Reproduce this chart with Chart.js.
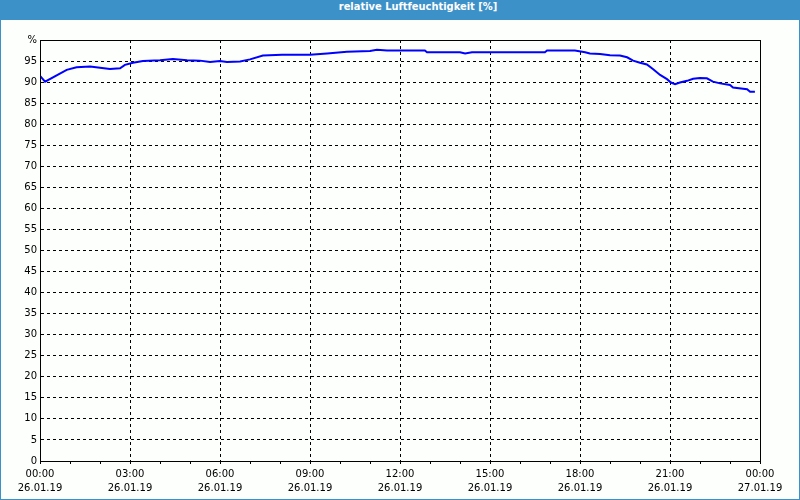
<!DOCTYPE html>
<html>
<head>
<meta charset="utf-8">
<script src="https://cdn.jsdelivr.net/npm/chart.js@4.4.0/dist/chart.umd.min.js"></script>
<style>
  html, body { margin: 0; padding: 0; background: #fff; }
  #wrap { width: 800px; height: 500px; position: relative; overflow: hidden; }
  #title {
    height: 20px; line-height: 20px; background: #3d91c9; color: #fff;
    font: bold 11px "DejaVu Sans Condensed", "DejaVu Sans", sans-serif;
    text-align: center; padding-left: 36px; box-sizing: border-box;
  }
  #box {
    width: 800px; height: 480px; box-sizing: border-box;
    border: 1px solid #3d91c9; border-top: 0; background: #fcfffc;
  }
  #chart { display: block; }
</style>
</head>
<body>
<div id="wrap">
  <div id="title">relative Luftfeuchtigkeit [%]</div>
  <div id="box"><canvas id="chart" width="798" height="479"></canvas></div>
</div>
<script>
/* ── data (hours since 26.01.19 00:00, % rH) ────────────────────────────── */
const hours = [
  0, 0.17, 0.89, 1.22, 1.67, 2.0, 2.33, 2.67, 2.83, 3.1, 3.43, 4.0, 4.43, 4.9,
  5.33, 5.67, 6.0, 6.23, 6.67, 7.0, 7.43, 8.07, 9.0, 9.57, 10.23, 11.0, 11.23,
  11.57, 12.83, 12.9, 14.0, 14.17, 14.4, 16.83, 16.9, 17.83, 18.17, 18.33,
  18.67, 19.0, 19.33, 19.57, 19.77, 20.0, 20.23, 20.43, 20.67, 20.9, 21.03,
  21.17, 21.33, 21.57, 21.77, 22.0, 22.23, 22.43, 22.67, 23.0, 23.1, 23.57,
  23.67, 23.83
];
const humidity = [
  91.5, 90.1, 92.9, 93.5, 93.7, 93.4, 93.1, 93.3, 94.1, 94.6, 95.0, 95.2, 95.5, 95.2,
  95.1, 94.8, 95.0, 94.8, 94.9, 95.4, 96.3, 96.5, 96.5, 96.8, 97.2, 97.4, 97.7,
  97.5, 97.5, 97.1, 97.1, 96.8, 97.1, 97.1, 97.5, 97.5, 97.1, 96.8,
  96.7, 96.4, 96.3, 95.9, 95.1, 94.6, 94.2, 93.1, 91.7, 90.7, 89.9,
  89.5, 89.9, 90.3, 90.8, 91.0, 90.9, 90.1, 89.7, 89.3, 88.7, 88.3,
  87.7, 87.7
];
const timeLabels = ['00:00', '03:00', '06:00', '09:00', '12:00', '15:00', '18:00', '21:00', '00:00'];
const dateLabels = ['26.01.19', '26.01.19', '26.01.19', '26.01.19', '26.01.19',
                    '26.01.19', '26.01.19', '26.01.19', '27.01.19'];

const FONT = { family: "'DejaVu Sans', sans-serif", size: 10, lineHeight: 1.4 };
const DASH = [3, 3];

/* frame round the plot area (top + right edges) */
const frame = {
  id: 'frame',
  afterDraw(chart) {
    const { ctx, chartArea: a } = chart;
    ctx.save();
    ctx.strokeStyle = '#000';
    ctx.lineWidth = 1;
    ctx.strokeRect(Math.round(a.left) + 0.5, Math.round(a.top) + 0.5,
                   Math.round(a.right - a.left), Math.round(a.bottom - a.top));
    ctx.restore();
  }
};

new Chart(document.getElementById('chart'), {
  type: 'line',
  data: {
    datasets: [{
      data: hours.map((h, i) => ({ x: h, y: humidity[i] })),
      borderColor: '#0000ff',
      borderWidth: 2,
      pointRadius: 0,
      tension: 0,
      fill: false,
    }]
  },
  options: {
    responsive: false,
    animation: false,
    layout: { padding: { left: 0, top: 20, right: 39, bottom: 0 } },
    plugins: { legend: { display: false }, tooltip: { enabled: false } },
    scales: {
      x: {
        type: 'linear',
        min: 0, max: 24,
        afterFit: s => { s.height = 38; },
        ticks: {
          stepSize: 1, autoSkip: false, maxRotation: 0, padding: 3,
          color: '#000', font: FONT,
          callback: v => v % 3 === 0 ? [timeLabels[v / 3], dateLabels[v / 3]] : '',
        },
        grid: {
          color: c => (c.tick && c.tick.value % 3 === 0) ? '#000' : 'transparent',
          tickColor: '#000', tickLength: 3, lineWidth: 1,
        },
        border: { color: '#000', width: 1, dash: DASH },
      },
      y: {
        min: 0, max: 100,
        afterFit: s => { s.width = 39; },
        ticks: {
          stepSize: 5, padding: 3, color: '#000', font: FONT,
          callback: v => v === 100 ? '%' : v,
        },
        grid: {
          color: c => (c.tick && (c.tick.value === 0 || c.tick.value === 100)) ? 'transparent' : '#000',
          drawTicks: false, lineWidth: 1,
        },
        border: { color: '#000', width: 1, dash: DASH },
      },
    },
  },
  plugins: [frame],
});
</script>
</body>
</html>
